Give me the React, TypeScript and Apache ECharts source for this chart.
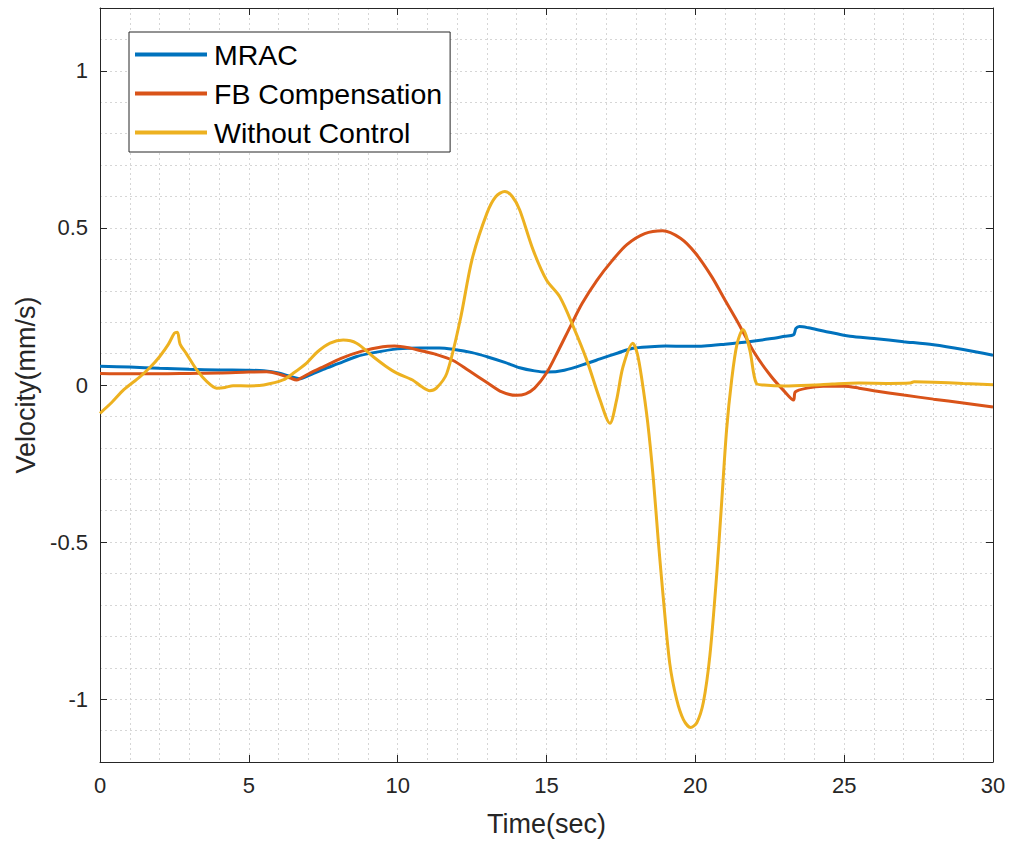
import React, { useEffect, useRef } from "react";
import * as echarts from "echarts";

// Time (sec) and velocity (mm/s) samples
const mracT = [0, 1, 2, 3, 4, 5, 5.5, 6.0, 6.4, 6.7, 7.0, 7.5, 8.0, 8.6, 9.2, 10.0, 10.75, 11.4, 11.9, 12.5, 13.0, 13.6, 14.1, 14.6, 15.0, 15.6, 16.4, 16.8, 17.4, 17.9, 18.5, 19.0, 19.7, 20.3, 21.0, 21.8, 22.5, 23.0, 23.3, 23.38, 23.5, 23.8, 24.3, 25.2, 26.0, 27.0, 28.0, 29.0, 30.0];
const mracV = [0.06, 0.057, 0.053, 0.05, 0.048, 0.047, 0.045, 0.038, 0.027, 0.02, 0.03, 0.05, 0.068, 0.09, 0.103, 0.115, 0.118, 0.118, 0.113, 0.103, 0.09, 0.072, 0.055, 0.045, 0.041, 0.047, 0.07, 0.083, 0.102, 0.117, 0.122, 0.124, 0.123, 0.124, 0.13, 0.138, 0.147, 0.155, 0.16, 0.18, 0.186, 0.182, 0.172, 0.155, 0.148, 0.138, 0.128, 0.113, 0.095];

const fbT = [0, 1, 2, 3, 4, 5, 5.6, 6.0, 6.4, 6.6, 6.75, 7.0, 7.5, 8.1, 8.8, 9.5, 9.9, 10.4, 10.75, 11.3, 11.86, 12.4, 13.0, 13.5, 14.0, 14.3, 14.6, 15.0, 15.4, 15.8, 16.2, 16.7, 17.2, 17.7, 18.3, 18.9, 19.5, 20.0, 20.55, 21.0, 21.45, 22.0, 22.55, 23.0, 23.3, 23.36, 23.75, 24.3, 25.0, 25.5, 26.0, 27.0, 28.0, 29.0, 30.0];
const fbV = [0.037, 0.036, 0.036, 0.037, 0.038, 0.041, 0.042, 0.035, 0.022, 0.016, 0.022, 0.035, 0.058, 0.085, 0.108, 0.122, 0.124, 0.118, 0.11, 0.097, 0.078, 0.045, 0.008, -0.022, -0.033, -0.028, -0.01, 0.038, 0.11, 0.186, 0.26, 0.334, 0.395, 0.447, 0.482, 0.491, 0.467, 0.42, 0.345, 0.27, 0.196, 0.1, 0.027, -0.021, -0.048, -0.022, -0.01, -0.004, -0.004, -0.01, -0.018, -0.032, -0.045, -0.057, -0.07];

const woT = [0, 0.4, 0.8, 1.34, 1.7, 2.0, 2.3, 2.5, 2.6, 2.69, 2.9, 3.25, 3.6, 3.92, 4.2, 4.47, 5.0, 5.5, 6.15, 6.5, 6.94, 7.3, 7.73, 8.17, 8.62, 9.18, 9.6, 9.97, 10.5, 10.8, 11.08, 11.3, 11.65, 12.1, 12.5, 13.0, 13.3, 13.6, 13.85, 14.1, 14.55, 15.0, 15.45, 15.9, 16.35, 16.8, 17.13, 17.35, 17.57, 17.9, 18.05, 18.2, 18.4, 18.59, 18.75, 18.92, 19.14, 19.37, 19.6, 19.84, 20.05, 20.27, 20.49, 20.72, 20.88, 21.05, 21.22, 21.4, 21.6, 21.83, 22.05, 22.3, 23.0, 24.0, 24.6, 25.5, 26.5, 27.2, 27.35, 28.0, 29.0, 30.0];
const woV = [-0.09, -0.055, -0.015, 0.026, 0.058, 0.09, 0.13, 0.165, 0.168, 0.13, 0.1, 0.048, 0.01, -0.01, -0.008, -0.002, -0.003, 0.0, 0.016, 0.038, 0.07, 0.105, 0.133, 0.143, 0.133, 0.09, 0.06, 0.038, 0.016, -0.005, -0.018, -0.01, 0.037, 0.207, 0.4, 0.547, 0.6, 0.616, 0.6, 0.557, 0.43, 0.334, 0.28, 0.186, 0.08, -0.048, -0.122, -0.05, 0.058, 0.133, 0.1, 0.02, -0.12, -0.3, -0.49, -0.674, -0.886, -1.0, -1.065, -1.09, -1.075, -1.01, -0.86, -0.6, -0.38, -0.143, 0.016, 0.13, 0.177, 0.111, 0.005, 0.0, -0.003, 0.0, 0.003, 0.006, 0.005, 0.006, 0.01, 0.009, 0.005, 0.001];

const seriesNames = ["MRAC", "FB Compensation", "Without Control"];
const seriesColors = ["#0072BD", "#D95319", "#EDB120"];
const xTicks = [0, 5, 10, 15, 20, 25, 30];
const yTicks = [-1, -0.5, 0, 0.5, 1];

const FONT = "'Liberation Sans', Arial, Helvetica, sans-serif";
const AXIS_COLOR = "#262626";

function pairs(t: number[], v: number[]) {
  return t.map((x, i) => [x, v[i]]);
}

export default function App() {
  const ref = useRef<HTMLDivElement>(null);
  useEffect(() => {
    if (!ref.current) return;
    const chart = echarts.init(ref.current, null, { renderer: "svg" });
    const axisLine = { show: true, onZero: false, lineStyle: { color: AXIS_COLOR, width: 1 } };
    const split = { show: true, lineStyle: { color: "#d6d6d6", type: [2, 3], width: 1 } };
    const tick = (vals: number[]) => ({ show: true, inside: true, length: 7, customValues: vals, lineStyle: { color: AXIS_COLOR } });
    const datasets = [pairs(mracT, mracV), pairs(fbT, fbV), pairs(woT, woV)];
    chart.setOption({
      animation: false,
      backgroundColor: "#ffffff",
      grid: { left: 100, right: 22, top: 8, bottom: 82, containLabel: false },
      legend: {
        left: 129,
        top: 32,
        orient: "vertical",
        data: seriesNames,
        backgroundColor: "#ffffff",
        borderColor: AXIS_COLOR,
        borderWidth: 1,
        padding: [8, 8, 5, 6],
        itemGap: 10,
        itemWidth: 72,
        itemHeight: 4,
        icon: "rect",
        textStyle: { fontFamily: FONT, fontSize: 28.5, color: "#000000", lineHeight: 28, padding: [0, 0, 0, 2] },
      },
      xAxis: [
        {
          type: "value",
          min: 0,
          max: 30,
          interval: 1,
          name: "Time(sec)",
          nameLocation: "middle",
          nameGap: 48,
          nameTextStyle: { fontFamily: FONT, fontSize: 27, color: AXIS_COLOR },
          axisLine,
          axisTick: tick(xTicks),
          axisLabel: { customValues: xTicks, fontFamily: FONT, fontSize: 22, color: AXIS_COLOR, margin: 12 },
          splitLine: { show: false },
          z: 3,
        },
        {
          type: "value",
          position: "top",
          min: 0,
          max: 30,
          interval: 1,
          axisLine,
          axisTick: tick(xTicks),
          axisLabel: { show: false },
          splitLine: { show: false },
          z: 3,
        },
        {
          type: "value",
          position: "bottom",
          min: 0,
          max: 30,
          interval: 1,
          axisLine: { show: false },
          axisTick: { show: false },
          axisLabel: { show: false },
          splitLine: split,
        },
      ],
      yAxis: [
        {
          type: "value",
          min: -1.2,
          max: 1.2,
          interval: 0.1,
          name: "Velocity(mm/s)",
          nameLocation: "middle",
          nameGap: 52,
          nameTextStyle: { fontFamily: FONT, fontSize: 27, color: AXIS_COLOR },
          axisLine,
          axisTick: tick(yTicks),
          axisLabel: { customValues: yTicks, fontFamily: FONT, fontSize: 22, color: AXIS_COLOR, margin: 12 },
          splitLine: { show: false },
          z: 3,
        },
        {
          type: "value",
          position: "right",
          min: -1.2,
          max: 1.2,
          interval: 0.1,
          axisLine,
          axisTick: tick(yTicks),
          axisLabel: { show: false },
          splitLine: { show: false },
          z: 3,
        },
        {
          type: "value",
          position: "left",
          min: -1.2,
          max: 1.2,
          interval: 0.1,
          axisLine: { show: false },
          axisTick: { show: false },
          axisLabel: { show: false },
          splitLine: split,
        },
      ],
      series: seriesNames.map((name, i) => ({
        name,
        type: "line",
        xAxisIndex: 0,
        yAxisIndex: 0,
        data: datasets[i],
        showSymbol: false,
        symbol: "none",
        smooth: 0.3,
        itemStyle: { color: seriesColors[i] },
        lineStyle: { color: seriesColors[i], width: 3 },
      })),
    });
    return () => chart.dispose();
  }, []);
  return <div ref={ref} style={{ width: 1015, height: 844, position: "absolute", left: 0, top: 0 }} />;
}
